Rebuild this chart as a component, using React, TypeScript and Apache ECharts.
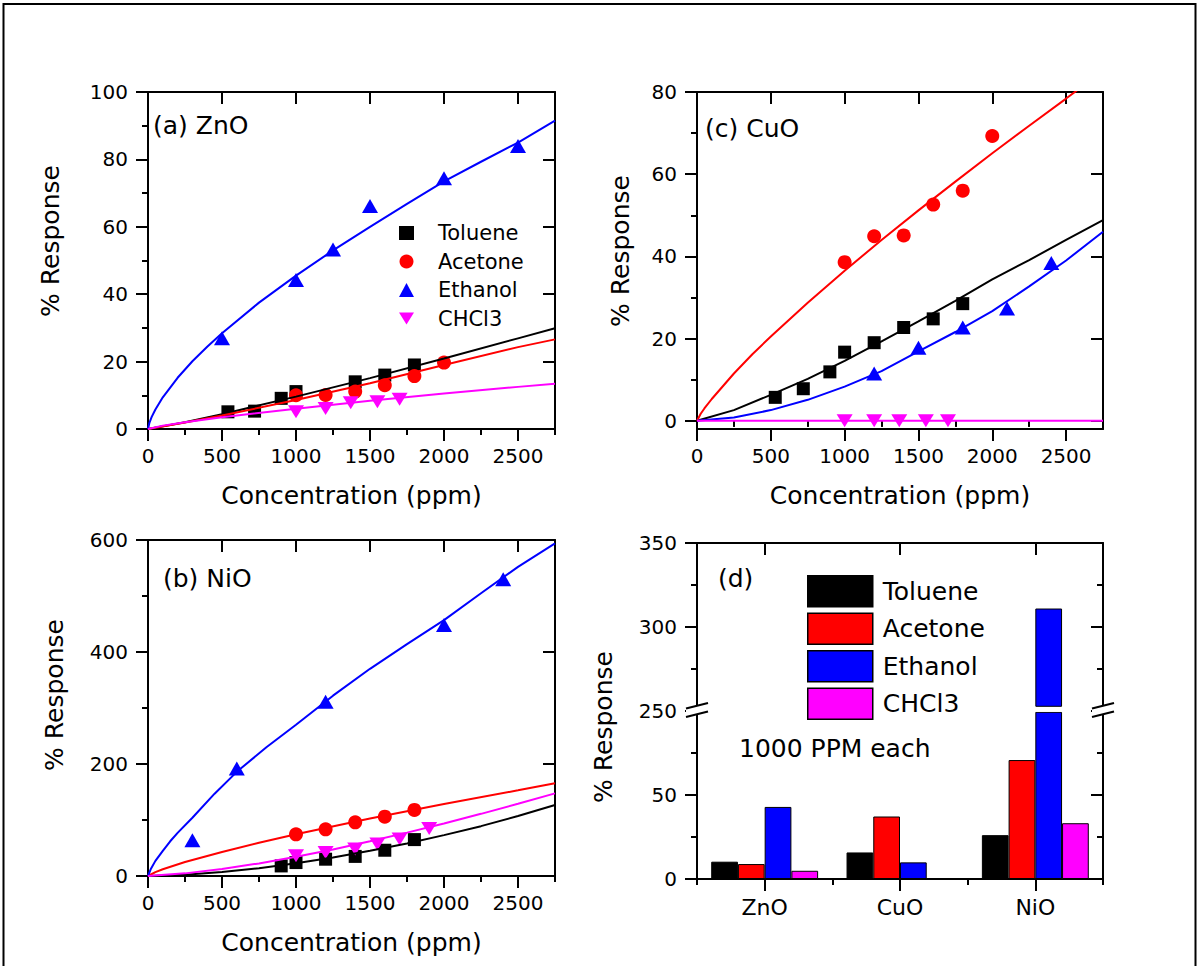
import React, { useEffect, useRef } from 'react';
import * as echarts from 'echarts';

const FONT = 'DejaVu Sans';
const INK = '#000000';

const gasNames = ['Toluene', 'Acetone', 'Ethanol', 'CHCl3'];
const gasColors = ['#000000', '#ff0000', '#0000ff', '#ff00ff'];

// concentration axis (ppm)
const concMax = 2750;
const concMajor = [0, 500, 1000, 1500, 2000, 2500];
const concMinor = [250, 750, 1250, 1750, 2250, 2750];

// (a) ZnO – measured response [ppm, %]
const znoToluene = [[540, 5.1], [720, 5.3], [900, 9.1], [1000, 11.1], [1400, 14.0], [1600, 16.0], [1800, 19.0]];
const znoAcetone = [[1000, 10.0], [1200, 10.1], [1400, 11.1], [1600, 13.0], [1800, 15.7], [2000, 19.7]];
const znoEthanol = [[500, 26.9], [1000, 44.2], [1250, 53.3], [1500, 66.2], [2000, 74.4], [2500, 84.0]];
const znoChcl3 = [[1000, 5.1], [1200, 6.1], [1370, 7.8], [1550, 8.1], [1700, 8.8]];
// (a) ZnO – fitted curves
const znoTolueneFit = [[0, 0], [250, 2.0], [500, 4.4], [1000, 9.6], [1500, 15.1], [2000, 20.9], [2500, 26.9], [2750, 29.9]];
const znoAcetoneFit = [[0, 0], [250, 1.9], [500, 4.0], [1000, 8.6], [1500, 13.6], [2000, 19.0], [2500, 24.3], [2750, 26.6]];
const znoEthanolFit = [[0, 0], [10, 1.9], [25, 3.6], [50, 5.8], [100, 9.4], [200, 15.2], [300, 20.1], [400, 24.4], [500, 28.4], [750, 37.5], [1000, 45.5], [1250, 53.0], [1500, 60.0], [1750, 66.8], [2000, 73.5], [2250, 79.3], [2500, 85.0], [2750, 91.5]];
const znoChcl3Fit = [[0, 0], [100, 1.0], [250, 2.0], [500, 3.5], [1000, 6.0], [1500, 8.4], [2000, 10.5], [2500, 12.5], [2750, 13.4]];

// (c) CuO – measured response
const cuoToluene = [[530, 5.7], [720, 7.8], [900, 11.9], [1000, 16.7], [1200, 19.0], [1400, 22.7], [1600, 24.8], [1800, 28.5]];
const cuoAcetone = [[1000, 38.6], [1200, 44.9], [1400, 45.1], [1600, 52.6], [1800, 56.0], [2000, 69.3]];
const cuoEthanol = [[1200, 11.5], [1500, 17.8], [1800, 22.7], [2100, 27.3], [2400, 38.4]];
const cuoChcl3 = [[1000, 0], [1200, 0], [1370, 0], [1550, 0], [1700, 0]];
// (c) CuO – fitted curves
const cuoTolueneFit = [[0, 0], [250, 2.6], [500, 6.3], [750, 10.2], [1000, 14.6], [1250, 19.3], [1500, 24.2], [1750, 29.2], [2000, 34.4], [2250, 39.1], [2500, 44.0], [2750, 48.8]];
const cuoAcetoneFit = [[0, 0], [25, 1.7], [50, 3.0], [100, 5.3], [175, 8.4], [250, 11.5], [375, 16.2], [500, 20.5], [750, 28.7], [1000, 36.5], [1250, 44.0], [1500, 51.2], [1750, 58.2], [2000, 65.1], [2250, 71.8], [2500, 78.4], [2600, 81.1]];
const cuoEthanolFit = [[0, 0], [250, 0.8], [500, 2.6], [750, 5.1], [1000, 8.3], [1250, 12.1], [1500, 16.9], [1750, 21.6], [2000, 26.7], [2250, 32.7], [2500, 39.0], [2750, 46.0]];
const cuoChcl3Fit = [[0, 0], [2750, 0]];

// (b) NiO – measured response
const nioToluene = [[900, 18], [1000, 24], [1200, 30], [1400, 35], [1600, 46], [1800, 65]];
const nioAcetone = [[1000, 74.4], [1200, 83.3], [1400, 95.8], [1600, 106], [1800, 118]];
const nioEthanol = [[300, 64], [600, 192], [1200, 311], [2000, 448], [2400, 530]];
const nioChcl3 = [[1000, 36], [1200, 42], [1400, 48], [1550, 57], [1700, 66], [1900, 85]];
// (b) NiO – fitted curves
const nioTolueneFit = [[0, 0], [250, 2.1], [500, 7], [750, 14], [1000, 22.6], [1250, 33], [1500, 45], [1750, 58], [2000, 73], [2250, 89], [2500, 107], [2750, 126.8]];
const nioAcetoneFit = [[0, 0], [50, 7.0], [100, 12.1], [250, 24.9], [500, 43], [750, 59.5], [1000, 74.4], [1500, 102.7], [2000, 128.7], [2500, 153], [2750, 165.5]];
const nioEthanolFit = [[0, 0], [20, 13], [50, 27], [100, 45], [150, 62], [200, 77], [300, 104], [450, 147], [600, 186], [800, 230], [1000, 270], [1250, 322], [1500, 370], [1750, 414], [2000, 457], [2250, 505], [2500, 552], [2750, 594]];
const nioChcl3Fit = [[0, 0], [250, 4.7], [500, 12.7], [750, 22.5], [1000, 34.5], [1250, 47.5], [1500, 62], [1750, 77.5], [2000, 93.6], [2250, 111], [2500, 129], [2750, 147.6]];

// (d) response at 1000 ppm
const oxides = ['ZnO', 'CuO', 'NiO'];
const barToluene = [10.3, 15.8, 26.1];
const barAcetone = [8.9, 37.2, 70.8];
const barEthanol = [42.9, 9.9, 311];
const barChcl3 = [4.9, 0, 33.2];
// broken response axis: 100..250 is cut out
const breakLow = 100;
const breakHigh = 250;
const barAxisTicks = [0, 50, 100, 150, 200];
const barAxisMinor = [25, 75, 125, 175];
const barTickLabels = ['0', '50', '250', '300', '350'];

const markers: Record<string, any> = {
  Toluene: { symbol: 'rect', symbolSize: 13 },
  Acetone: { symbol: 'circle', symbolSize: 14 },
  Ethanol: { symbol: 'triangle', symbolSize: [16, 14] },
  CHCl3: { symbol: 'triangle', symbolSize: [16, 13], symbolRotate: 180 },
};

const lineStyle = { color: INK, width: 2 };
const tickLabel = { color: INK, fontFamily: FONT, fontSize: 20 };
const plain = (v: number) => String(v);

function buildOption() {
  const xAxes: any[] = [];
  const yAxes: any[] = [];

  // one axis carries the line, long ticks and labels; a twin carries the short ticks
  const addValueAxes = (
    list: any[], gridIndex: number, dim: 'x' | 'y', min: number, max: number,
    major: number[], minor: number[], extra: any = {}, formatter: (v: number) => string = plain,
  ) => {
    const sides = dim === 'x' ? ['bottom', 'top'] : ['left', 'right'];
    let primary = -1;
    sides.forEach((position, i) => {
      const inside = i === 1;
      const base = { gridIndex, type: 'value', min, max, position, splitLine: { show: false }, minorTick: { show: false } };
      const main: any = {
        ...base,
        axisLine: { show: true, onZero: false, lineStyle },
        axisTick: { show: true, inside, length: 12, customValues: major, lineStyle },
        axisLabel: i === 0
          ? { show: true, customValues: major, margin: dim === 'x' ? 17 : 20, ...tickLabel, formatter }
          : { show: false },
      };
      if (i === 0) Object.assign(main, extra);
      list.push(main);
      if (i === 0) primary = list.length - 1;
      list.push({
        ...base,
        axisLine: { show: false },
        axisTick: { show: true, inside, length: 6, customValues: minor, lineStyle },
        axisLabel: { show: false },
      });
    });
    return primary;
  };

  const xName = {
    name: 'Concentration (ppm)',
    nameLocation: 'middle',
    nameGap: 54,
    nameTextStyle: { color: INK, fontFamily: FONT, fontSize: 25 },
  };

  const panels = [
    {
      grid: { left: 148, top: 92, width: 407, height: 337 },
      y: { min: 0, max: 100, major: [0, 20, 40, 60, 80, 100], minor: [10, 30, 50, 70, 90] },
      points: [znoToluene, znoAcetone, znoEthanol, znoChcl3],
      fits: [znoTolueneFit, znoAcetoneFit, znoEthanolFit, znoChcl3Fit],
      tag: 'ZnO',
    },
    {
      grid: { left: 697, top: 92, width: 406, height: 337 },
      y: { min: -2, max: 80, major: [0, 20, 40, 60, 80], minor: [10, 30, 50, 70] },
      points: [cuoToluene, cuoAcetone, cuoEthanol, cuoChcl3],
      fits: [cuoTolueneFit, cuoAcetoneFit, cuoEthanolFit, cuoChcl3Fit],
      tag: 'CuO',
    },
    {
      grid: { left: 148, top: 540, width: 407, height: 336 },
      y: { min: 0, max: 600, major: [0, 200, 400, 600], minor: [100, 300, 500] },
      points: [nioToluene, nioAcetone, nioEthanol, nioChcl3],
      fits: [nioTolueneFit, nioAcetoneFit, nioEthanolFit, nioChcl3Fit],
      tag: 'NiO',
    },
  ];

  const grids: any[] = panels.map((p) => p.grid);
  grids.push({ left: 697, top: 543, width: 406, height: 336 });

  const series: any[] = [];
  panels.forEach((p, gi) => {
    const xi = addValueAxes(xAxes, gi, 'x', 0, concMax, concMajor, concMinor, xName);
    const yi = addValueAxes(yAxes, gi, 'y', p.y.min, p.y.max, p.y.major, p.y.minor);
    gasNames.forEach((gas, k) => {
      series.push({
        name: gas,
        type: 'scatter',
        xAxisIndex: xi,
        yAxisIndex: yi,
        data: p.points[k],
        ...markers[gas],
        itemStyle: { color: gasColors[k], opacity: 1 },
        z: 3,
      });
    });
    gasNames.forEach((gas, k) => {
      series.push({
        name: `${gas} fit (${p.tag})`,
        type: 'line',
        xAxisIndex: xi,
        yAxisIndex: yi,
        data: p.fits[k],
        showSymbol: false,
        symbol: 'none',
        smooth: false,
        clip: true,
        lineStyle: { color: gasColors[k], width: 2 },
        z: 4,
      });
    });
  });

  // (d) bar panel
  const catAxes = (position: string, inside: boolean, withLabels: boolean) => [
    {
      gridIndex: 3, type: 'category', data: oxides, position, boundaryGap: true,
      axisLine: { show: true, onZero: false, lineStyle },
      axisTick: { show: true, alignWithLabel: true, interval: 0, inside, length: 12, lineStyle },
      axisLabel: withLabels
        ? { show: true, interval: 0, margin: 17, color: INK, fontFamily: FONT, fontSize: 22 }
        : { show: false },
    },
    {
      gridIndex: 3, type: 'category', data: oxides, position, boundaryGap: true,
      axisLine: { show: false },
      axisTick: { show: true, alignWithLabel: false, interval: 0, inside, length: 6, lineStyle },
      axisLabel: { show: false },
    },
  ];
  const barX = xAxes.length;
  xAxes.push(...catAxes('bottom', false, true), ...catAxes('top', true, false));
  const barY = addValueAxes(
    yAxes, 3, 'y', 0, 200, barAxisTicks, barAxisMinor, {},
    (v: number) => barTickLabels[barAxisTicks.indexOf(v)] ?? '',
  );

  const toAxis = (v: number) => (v <= breakLow ? v : v - (breakHigh - breakLow));
  const gapStart = 99.5;
  const gapSize = 3;
  const ethLower = barEthanol.map((v) => Math.min(toAxis(v), gapStart));
  const ethGap = barEthanol.map((v) => (toAxis(v) > gapStart ? gapSize : null));
  const ethUpper = barEthanol.map((v) => (toAxis(v) > gapStart ? toAxis(v) - gapStart - gapSize : null));

  const barCommon = {
    type: 'bar', xAxisIndex: barX, yAxisIndex: barY,
    barGap: '0%', barCategoryGap: '21%',
  };
  const barBorder = { borderColor: INK, borderWidth: 1, opacity: 1 };
  series.push(
    { ...barCommon, name: 'Toluene', data: barToluene.map(toAxis), itemStyle: { color: gasColors[0], ...barBorder } },
    { ...barCommon, name: 'Acetone', data: barAcetone.map(toAxis), itemStyle: { color: gasColors[1], ...barBorder } },
    { ...barCommon, name: 'Ethanol', stack: 'ethanol', data: ethLower, itemStyle: { color: gasColors[2], ...barBorder } },
    { ...barCommon, name: 'Ethanol (axis break)', stack: 'ethanol', data: ethGap, itemStyle: { color: '#ffffff', borderWidth: 0 } },
    { ...barCommon, name: 'Ethanol (above break)', stack: 'ethanol', data: ethUpper, itemStyle: { color: gasColors[2], ...barBorder } },
    { ...barCommon, name: 'CHCl3', data: barChcl3.map(toAxis), itemStyle: { color: gasColors[3], ...barBorder } },
  );

  const text = (t: string, x: number, y: number, size: number, extra: any = {}) => ({
    type: 'text', x, y, z: 100, silent: true, ...extra,
    style: {
      text: t, fill: INK, fontFamily: FONT, fontSize: size,
      verticalAlign: 'middle', textVerticalAlign: 'middle',
      ...(extra.center ? { align: 'center', textAlign: 'center' } : {}),
    },
  });
  const vTitle = (x: number, y: number) => text('% Response', x, y, 25, { rotation: Math.PI / 2, center: true });

  const breakMark = (x0: number, y0: number) => [
    { type: 'polygon', z: 100, silent: true, shape: { points: [[x0 - 11, y0 - 1.5], [x0 + 11, y0 - 7], [x0 + 11, y0 + 1.5], [x0 - 11, y0 + 7]] }, style: { fill: '#ffffff' } },
    { type: 'line', z: 101, silent: true, shape: { x1: x0 - 11, y1: y0 - 1.5, x2: x0 + 11, y2: y0 - 7 }, style: { stroke: INK, lineWidth: 2 } },
    { type: 'line', z: 101, silent: true, shape: { x1: x0 - 11, y1: y0 + 7, x2: x0 + 11, y2: y0 + 1.5 }, style: { stroke: INK, lineWidth: 2 } },
  ];

  const graphic = [
    { type: 'rect', z: 0, silent: true, shape: { x: 3.5, y: 4, width: 1192, height: 1000 }, style: { fill: 'none', stroke: INK, lineWidth: 2 } },
    vTitle(50, 241),
    vTitle(620, 251),
    vTitle(54, 695),
    vTitle(603, 727),
    text('(a) ZnO', 153, 125, 25),
    text('(c) CuO', 705, 128, 25),
    text('(b) NiO', 163, 578, 25),
    text('(d)', 718, 578, 25),
    text('1000 PPM each', 739, 748, 25),
    ...breakMark(697, 710),
    ...breakMark(1103, 710),
  ];

  return {
    animation: false,
    backgroundColor: '#ffffff',
    grid: grids,
    xAxis: xAxes,
    yAxis: yAxes,
    legend: [
      {
        orient: 'vertical', left: 399, top: 222, padding: 0, itemGap: 6.5,
        itemWidth: 15, itemHeight: 14, selectedMode: false,
        itemStyle: { opacity: 1 },
        textStyle: { color: INK, fontFamily: FONT, fontSize: 21, lineHeight: 22, padding: [0, 0, 0, 19] },
        data: [
          { name: 'Toluene', icon: 'rect' },
          { name: 'Acetone', icon: 'circle' },
          { name: 'Ethanol', icon: 'triangle' },
          { name: 'CHCl3', icon: 'path://M0,0L16,0L8,13Z' },
        ],
      },
      {
        orient: 'vertical', left: 807, top: 575, padding: 0, itemGap: 5,
        itemWidth: 65, itemHeight: 31, selectedMode: false, icon: 'rect',
        itemStyle: { borderColor: INK, borderWidth: 1.5, opacity: 1 },
        textStyle: { color: INK, fontFamily: FONT, fontSize: 25, padding: [0, 0, 0, 5] },
        data: gasNames.map((name) => ({ name, icon: 'rect' })),
      },
    ],
    series,
    graphic,
  };
}

export default function App() {
  const ref = useRef<HTMLDivElement>(null);
  useEffect(() => {
    if (!ref.current) return;
    const chart = echarts.init(ref.current, undefined, { renderer: 'svg' });
    chart.setOption(buildOption() as any);
    return () => chart.dispose();
  }, []);
  return (
    <div
      ref={ref}
      style={{ position: 'absolute', left: 0, top: 0, width: 1199, height: 966, background: '#ffffff' }}
    />
  );
}
